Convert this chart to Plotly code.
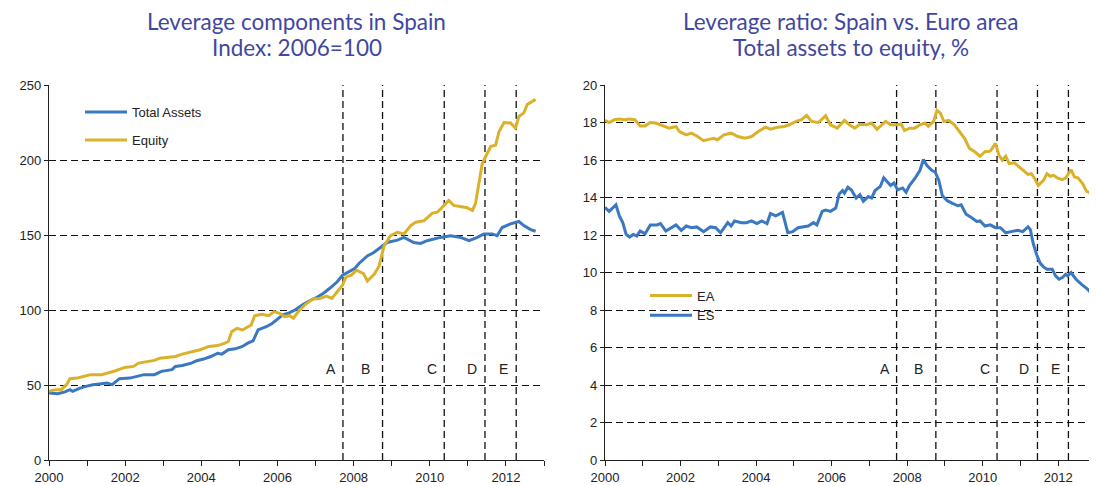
import plotly.graph_objects as go

# ---------------- data ----------------
ta_x = [2000.0, 2000.23, 2000.42, 2000.55, 2000.62, 2000.78, 2000.97, 2001.15, 2001.38, 2001.52, 2001.66, 2001.85,
        2002.12, 2002.3, 2002.5, 2002.77, 2002.95, 2003.23, 2003.32, 2003.5, 2003.74, 2003.88, 2004.06, 2004.25,
        2004.43, 2004.54, 2004.71, 2004.89, 2005.08, 2005.22, 2005.36, 2005.49, 2005.63, 2005.72, 2005.86, 2006.0,
        2006.14, 2006.28, 2006.46, 2006.65, 2006.83, 2007.02, 2007.2, 2007.39, 2007.57, 2007.71, 2007.85, 2008.03,
        2008.14, 2008.36, 2008.53, 2008.71, 2008.88, 2009.15, 2009.32, 2009.58, 2009.76, 2009.93, 2010.28, 2010.55,
        2010.81, 2011.03, 2011.25, 2011.42, 2011.64, 2011.77, 2011.9, 2012.12, 2012.25, 2012.34, 2012.47, 2012.65,
        2012.78]
ta_y = [44.7, 44.2, 45.4, 46.9, 45.8, 47.6, 49.1, 50.2, 50.9, 51.3, 50.2, 54.2,
        54.6, 55.8, 56.9, 56.9, 59.1, 60.2, 62.4, 63.0, 64.6, 66.2, 67.3, 69.0,
        71.2, 70.6, 73.5, 74.1, 75.7, 77.9, 79.4, 86.7, 87.8, 89.0, 91.0, 94.0,
        96.7, 97.8, 100.0, 103.3, 106.0, 108.2, 111.0, 114.8, 118.8, 123.2, 125.4, 127.7,
        131.0, 136.0, 138.3, 141.7, 145.0, 146.6, 148.4, 145.0, 144.4, 146.2, 148.4, 149.5,
        148.4, 146.2, 148.4, 150.7, 150.7, 149.5, 155.0, 157.4, 158.5, 159.0, 156.3, 153.6,
        152.5]

eq_x = [2000.0, 2000.18, 2000.32, 2000.46, 2000.55, 2000.74, 2000.92, 2001.1, 2001.38, 2001.57, 2001.75, 2001.99,
        2002.22, 2002.35, 2002.59, 2002.77, 2002.91, 2003.14, 2003.32, 2003.5, 2003.74, 2003.97, 2004.2, 2004.43,
        2004.62, 2004.71, 2004.8, 2004.94, 2005.08, 2005.22, 2005.31, 2005.4, 2005.59, 2005.77, 2005.91, 2006.05,
        2006.19, 2006.32, 2006.42, 2006.56, 2006.74, 2006.93, 2007.11, 2007.29, 2007.43, 2007.57, 2007.71, 2007.8,
        2007.94, 2008.08, 2008.26, 2008.36, 2008.45, 2008.54, 2008.67, 2008.8, 2008.97, 2009.15, 2009.32, 2009.5,
        2009.63, 2009.85, 2010.07, 2010.2, 2010.33, 2010.5, 2010.63, 2010.81, 2010.98, 2011.12, 2011.2, 2011.29,
        2011.38, 2011.51, 2011.6, 2011.73, 2011.82, 2011.95, 2012.12, 2012.25, 2012.34, 2012.47, 2012.56, 2012.78]
eq_y = [45.8, 46.9, 46.9, 50.2, 54.2, 54.6, 55.8, 56.9, 56.9, 58.0, 59.5, 61.7,
        62.4, 64.6, 65.7, 66.4, 67.9, 68.4, 69.0, 70.6, 72.3, 73.5, 75.7, 76.3,
        77.9, 79.0, 85.6, 87.8, 86.7, 89.0, 90.0, 96.2, 97.1, 96.2, 98.9, 97.8,
        95.6, 96.2, 94.5, 99.3, 103.8, 107.3, 107.7, 109.3, 107.7, 112.2, 116.6, 122.1,
        123.2, 126.5, 124.3, 119.3, 121.5, 123.8, 129.4, 142.8, 149.5, 151.8, 150.7, 156.3,
        158.5, 159.6, 164.6, 165.2, 168.6, 173.1, 169.7, 169.0, 168.2, 166.4, 170.9, 184.3,
        197.8, 204.5, 209.0, 210.0, 219.0, 225.0, 224.7, 221.3, 229.0, 231.4, 237.0, 240.4]

ea_x = [2000.0, 2000.11, 2000.25, 2000.38, 2000.52, 2000.65, 2000.79, 2000.93, 2001.06, 2001.2, 2001.34, 2001.52,
        2001.7, 2001.88, 2001.97, 2002.15, 2002.29, 2002.43, 2002.61, 2002.75, 2002.88, 2002.97, 2003.15, 2003.34,
        2003.52, 2003.7, 2003.88, 2004.06, 2004.25, 2004.38, 2004.56, 2004.75, 2004.88, 2005.06, 2005.2, 2005.34,
        2005.47, 2005.65, 2005.84, 2005.97, 2006.15, 2006.34, 2006.47, 2006.61, 2006.75, 2006.93, 2007.06, 2007.2,
        2007.29, 2007.43, 2007.56, 2007.75, 2007.84, 2007.93, 2008.06, 2008.2, 2008.34, 2008.47, 2008.56, 2008.7,
        2008.79, 2008.88, 2008.97, 2009.1, 2009.25, 2009.38, 2009.52, 2009.65, 2009.79, 2009.93, 2010.06, 2010.2,
        2010.34, 2010.43, 2010.52, 2010.61, 2010.7, 2010.84, 2010.97, 2011.11, 2011.2, 2011.29, 2011.38, 2011.47,
        2011.61, 2011.7, 2011.79, 2011.88, 2011.97, 2012.11, 2012.2, 2012.34, 2012.43, 2012.52, 2012.65, 2012.75,
        2012.86]
ea_y = [18.11, 18.0, 18.15, 18.18, 18.15, 18.18, 18.15, 17.82, 17.82, 18.0, 17.97, 17.82,
        17.7, 17.79, 17.52, 17.34, 17.43, 17.28, 17.03, 17.1, 17.16, 17.07, 17.34, 17.43,
        17.25, 17.16, 17.25, 17.52, 17.75, 17.64, 17.75, 17.79, 17.88, 18.06, 18.15, 18.38,
        18.06, 18.0, 18.36, 17.88, 17.7, 18.11, 17.88, 17.7, 17.91, 17.88, 17.97, 17.64,
        17.79, 18.06, 17.88, 17.88, 17.93, 17.57, 17.7, 17.7, 17.88, 17.97, 17.79, 18.06,
        18.65, 18.5, 18.06, 18.11, 17.88, 17.52, 17.16, 16.62, 16.44, 16.2, 16.44, 16.47,
        16.89, 16.26, 15.99, 16.2, 15.81, 15.85, 15.63, 15.36, 15.23, 15.27, 15.0, 14.64,
        14.91, 15.27, 15.13, 15.18, 15.05, 14.95, 15.05, 15.49, 15.09, 15.05, 14.73, 14.33,
        14.24]

es_x = [2000.0, 2000.11, 2000.29, 2000.38, 2000.47, 2000.56, 2000.65, 2000.75, 2000.84, 2000.93, 2001.06, 2001.2,
        2001.38, 2001.47, 2001.61, 2001.75, 2001.88, 2002.02, 2002.15, 2002.29, 2002.43, 2002.61, 2002.79, 2002.93,
        2003.06, 2003.25, 2003.34, 2003.43, 2003.61, 2003.75, 2003.88, 2004.02, 2004.15, 2004.29, 2004.38, 2004.52,
        2004.7, 2004.84, 2004.97, 2005.11, 2005.25, 2005.38, 2005.52, 2005.61, 2005.75, 2005.84, 2005.97, 2006.11,
        2006.2, 2006.29, 2006.34, 2006.43, 2006.52, 2006.65, 2006.75, 2006.84, 2006.97, 2007.06, 2007.15, 2007.29,
        2007.38, 2007.47, 2007.56, 2007.65, 2007.75, 2007.88, 2007.97, 2008.06, 2008.2, 2008.34, 2008.43, 2008.52,
        2008.65, 2008.74, 2008.84, 2008.93, 2009.06, 2009.2, 2009.34, 2009.43, 2009.56, 2009.7, 2009.84, 2009.93,
        2010.06, 2010.2, 2010.34, 2010.47, 2010.61, 2010.75, 2010.93, 2011.06, 2011.2, 2011.26, 2011.34, 2011.43,
        2011.52, 2011.61, 2011.7, 2011.84, 2011.93, 2012.02, 2012.11, 2012.2, 2012.25, 2012.34, 2012.47, 2012.61,
        2012.75, 2012.86]
es_y = [13.47, 13.26, 13.61, 13.02, 12.66, 12.03, 11.89, 12.03, 11.94, 12.21, 12.07, 12.54,
        12.54, 12.61, 12.21, 12.39, 12.54, 12.25, 12.48, 12.39, 12.43, 12.18, 12.43, 12.39,
        12.12, 12.66, 12.48, 12.75, 12.66, 12.66, 12.75, 12.61, 12.75, 12.61, 13.15, 13.02,
        13.2, 12.12, 12.18, 12.39, 12.43, 12.48, 12.66, 12.54, 13.26, 13.33, 13.26, 13.44,
        14.19, 14.37, 14.23, 14.55, 14.41, 13.97, 14.15, 13.8, 14.05, 13.97, 14.37, 14.59,
        15.05, 14.87, 14.64, 14.77, 14.41, 14.51, 14.28, 14.64, 15.0, 15.45, 16.03, 15.72,
        15.45, 15.36, 14.91, 14.1, 13.83, 13.69, 13.56, 13.61, 13.11, 12.93, 12.72, 12.75,
        12.48, 12.54, 12.39, 12.39, 12.12, 12.18, 12.25, 12.18, 12.43, 12.3, 11.53, 10.95,
        10.5, 10.3, 10.18, 10.18, 9.82, 9.64, 9.73, 9.91, 9.82, 10.0, 9.64, 9.38,
        9.16, 8.93]

event_labels = ["A", "B", "C", "D", "E"]
event_dates = [2007.72, 2008.76, 2010.38, 2011.45, 2012.27]

year_ticks = list(range(2000, 2014))
year_labels = [str(y) if y % 2 == 0 and y < 2013 else "" for y in year_ticks]

left_title_lines = ["Leverage components in Spain", "Index: 2006=100"]
right_title_lines = ["Leverage ratio: Spain vs. Euro area", "Total assets to equity, %"]

# ---------------- layout geometry (figure px) ----------------
BLUE = "#3a78c2"
GOLD = "#dcb12a"
TITLE_COLOR = "#3f47a0"
TICK_FONT = dict(family="Liberation Sans, Arial, sans-serif", size=13, color="#222")
LEG_FONT = dict(family="Liberation Sans, Arial, sans-serif", size=13, color="#222")
LABEL_SHIFTS = [-5, -11, -5, -6, -6]

W, H = 1097, 486
ML, MR, MT, MB = 41, 9, 77, 25
PW = W - ML - MR
PH = 374
L0, L1 = 41, 536
R0, R1 = 597, 1088
left_dom = [(L0 - ML) / PW, (L1 - ML) / PW]
right_dom = [(R0 - ML) / PW, (R1 - ML) / PW]

fig = go.Figure()
fig.add_trace(go.Scatter(x=ta_x, y=ta_y, mode="lines", name="Total Assets",
                         line=dict(color=BLUE, width=3), xaxis="x", yaxis="y",
                         legend="legend", legendgroup="a"))
fig.add_trace(go.Scatter(x=eq_x, y=eq_y, mode="lines", name="Equity",
                         line=dict(color=GOLD, width=3), xaxis="x", yaxis="y",
                         legend="legend", legendgroup="b"))
fig.add_trace(go.Scatter(x=ea_x, y=ea_y, mode="lines", name="EA",
                         line=dict(color=GOLD, width=3), xaxis="x2", yaxis="y2",
                         legend="legend2", legendgroup="c"))
fig.add_trace(go.Scatter(x=es_x, y=es_y, mode="lines", name="ES",
                         line=dict(color=BLUE, width=3), xaxis="x2", yaxis="y2",
                         legend="legend2", legendgroup="d"))

xcommon = dict(range=[2000, 2013], tickvals=year_ticks, ticktext=year_labels,
               showgrid=False, showline=True, linecolor="#222", linewidth=1.3,
               ticks="outside", ticklen=5, tickcolor="#222", tickfont=TICK_FONT,
               zeroline=False, fixedrange=True)
ycommon = dict(showgrid=True, gridcolor="#111", griddash="7px,4px", gridwidth=1.2,
               showline=True, linecolor="#222", linewidth=1.3, ticks="outside",
               ticklen=4, tickcolor="#222", tickfont=TICK_FONT, zeroline=False)

fig.update_layout(
    width=W, height=H,
    margin=dict(l=ML, r=MR, t=MT, b=MB),
    paper_bgcolor="white", plot_bgcolor="white",
    xaxis=dict(domain=left_dom, anchor="y", **xcommon),
    yaxis=dict(domain=[0, 1], anchor="x", range=[0, 250], tickvals=[0, 50, 100, 150, 200, 250], **ycommon),
    xaxis2=dict(domain=right_dom, anchor="y2", **xcommon),
    yaxis2=dict(domain=[0, 1], anchor="x2", range=[0, 20], tickvals=list(range(0, 21, 2)), **ycommon),
    legend=dict(x=(72 - ML) / PW, y=1 - 12 / PH, xanchor="left", yanchor="top",
                font=LEG_FONT, bgcolor="rgba(0,0,0,0)", tracegroupgap=8, itemwidth=42),
    legend2=dict(x=(637 - ML) / PW, y=1 - 195 / PH, xanchor="left", yanchor="top",
                 font=LEG_FONT, bgcolor="rgba(0,0,0,0)", tracegroupgap=0, itemwidth=42),
    showlegend=True,
)

# event lines and letters
for lab, d, sh in zip(event_labels, event_dates, LABEL_SHIFTS):
    for xr, yr, ylab in (("x", "y", 61), ("x2", "y2", 4.87)):
        fig.add_shape(type="line", xref=xr, yref=yr + " domain", x0=d, x1=d, y0=0, y1=1,
                      line=dict(color="#111", width=1.3, dash="7px,4px"), layer="below")
        fig.add_annotation(x=d, y=ylab, xref=xr, yref=yr, text=lab, showarrow=False,
                           xanchor="right", xshift=sh,
                           font=dict(family="Liberation Sans, Arial, sans-serif", size=14, color="#222"))

# titles (one annotation per line, centred over each panel)
title_font = dict(family="Lato, Noto Sans, sans-serif", size=22.5, color=TITLE_COLOR)
for dom, lines in ((left_dom, left_title_lines), (right_dom, right_title_lines)):
    for txt, above in zip(lines, (63, 37)):
        fig.add_annotation(x=(dom[0] + dom[1]) / 2, y=1 + above / PH, xref="paper", yref="paper",
                           text=txt, showarrow=False, xanchor="center", yanchor="middle",
                           font=title_font, borderpad=0)

fig.write_html("out.html")
